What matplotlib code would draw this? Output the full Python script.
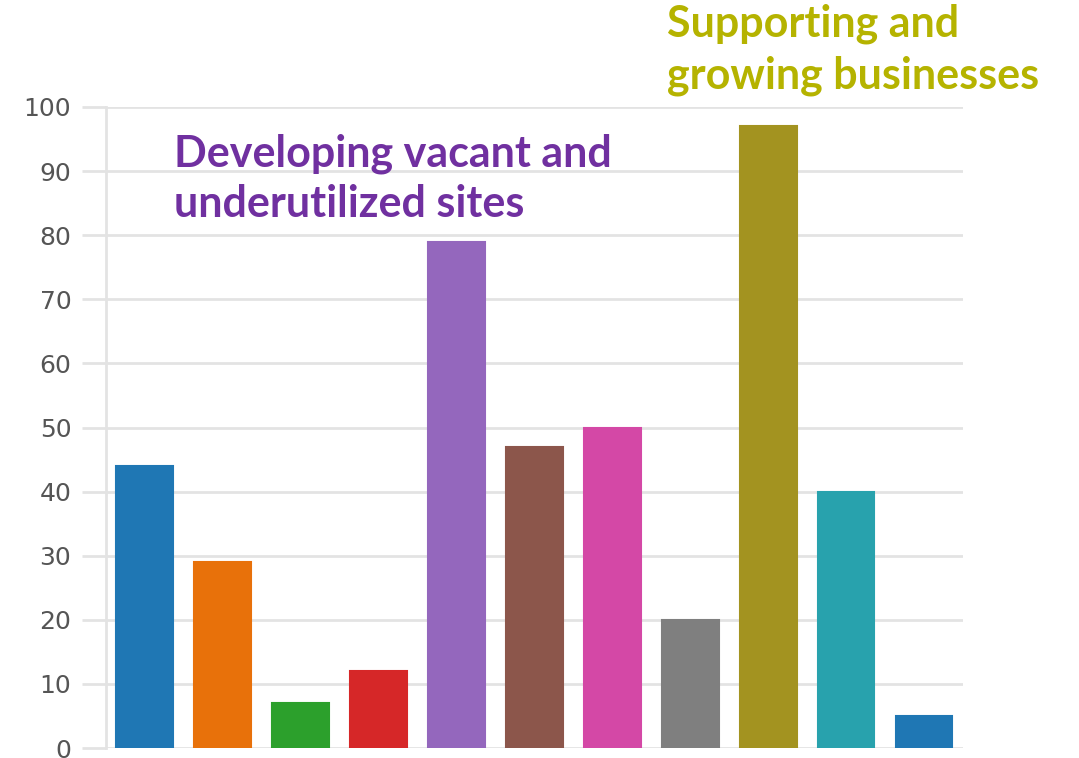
import matplotlib.pyplot as plt
import numpy as np

# bar values
values = [44, 29, 7, 12, 79, 47, 50, 20, 97, 40, 5]
colors = ['#1f77b4', '#e8710a', '#2ca02c', '#d62728', '#9467bd', '#8c564b',
          '#d448a6', '#7f7f7f', '#a39320', '#28a2ad', '#1f77b4']
yticks = [0, 10, 20, 30, 40, 50, 60, 70, 80, 90, 100]
label_left = "Developing vacant and\nunderutilized sites"
label_right = "Supporting and\ngrowing businesses"

W, H = 1079, 758
fig = plt.figure(figsize=(W / 100, H / 100), dpi=100)
ax = fig.add_axes([106 / W, 1 - 748 / H, (963 - 106) / W, (748 - 107) / H])

x = np.arange(len(values))
ax.bar(x, values, width=0.73, color=colors, edgecolor=colors, linewidth=1.5,
       zorder=3)

ax.set_xlim(-0.49, 10.5)
ax.set_ylim(0, 100)
ax.set_yticks(yticks)
ax.set_yticklabels([str(t) for t in yticks], fontsize=18, color='#555555',
                   family='DejaVu Sans')
ax.set_xticks([])
ax.grid(axis='y', color='#e3e3e3', linewidth=2, zorder=0)
ax.tick_params(axis='y', length=17, width=2, color='#e3e3e3', pad=8)
for side in ['top', 'right', 'bottom']:
    ax.spines[side].set_visible(False)
ax.spines['left'].set_color('#e3e3e3')
ax.spines['left'].set_linewidth(2)

# annotations, one line at a time so the baselines sit where the reference has them
def put_label(text, x_px, baselines_px, color):
    for line, yb in zip(text.split('\n'), baselines_px):
        fig.text(x_px / W, 1 - yb / H, line, color=color, fontsize=31,
                 fontweight='bold', family='Lato', va='baseline', ha='left')

put_label(label_left, 174, [167, 217], '#7030a0')
put_label(label_right, 667, [37, 88], '#b5b300')

fig.savefig('out.png', dpi=100)
